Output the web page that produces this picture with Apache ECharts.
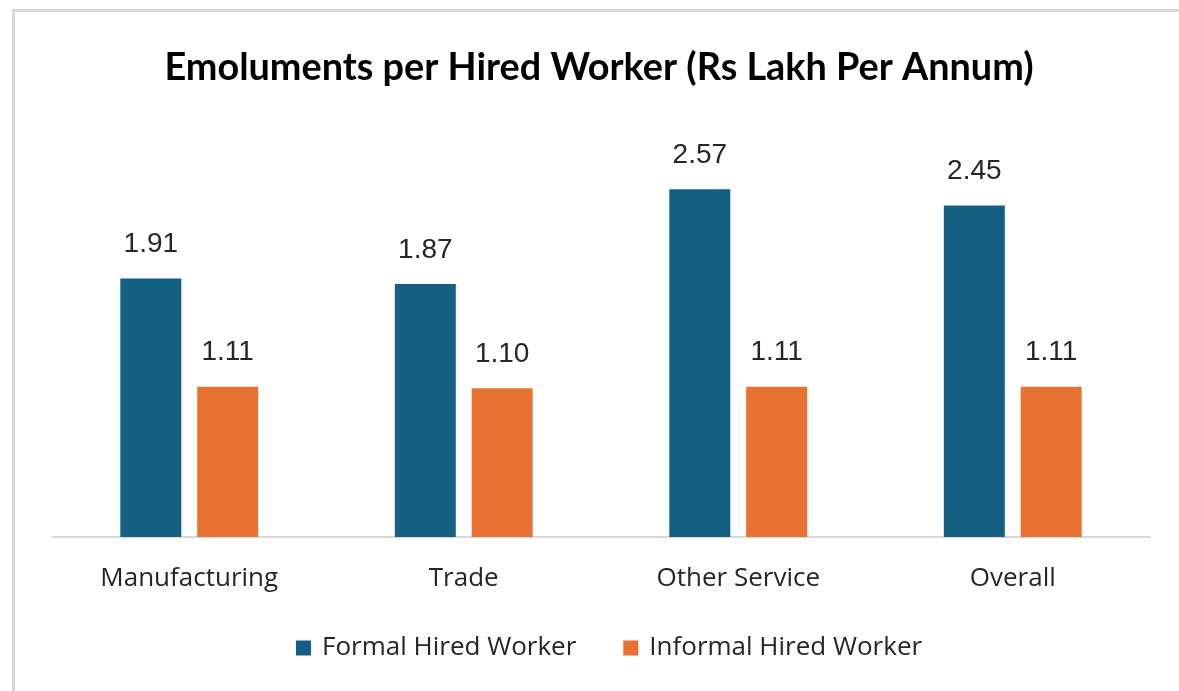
<!DOCTYPE html>
<html>
<head>
<meta charset="utf-8">
<script src="https://cdn.jsdelivr.net/npm/echarts@6/dist/echarts.min.js"></script>
<style>
  html, body { margin: 0; padding: 0; background: #fff; }
  #frame { position: absolute; left: 12px; top: 9px; width: 1200px; height: 720px; border: 3px solid #d9d9d9; box-sizing: border-box; }
  #myChart { position: absolute; left: 0; top: 0; width: 1179px; height: 691px; }
</style>
</head>
<body>
<div id="frame"></div>
<div id="myChart"></div>
<script>
var categories = ['Manufacturing', 'Trade', 'Other Service', 'Overall'];
var formalValues = [1.91, 1.87, 2.57, 2.45];
var informalValues = [1.11, 1.10, 1.11, 1.11];
var seriesNames = ['Formal Hired Worker', 'Informal Hired Worker'];

var myChart = echarts.init(document.getElementById('myChart'));

var labelStyle = {
    show: true,
    position: 'top',
    distance: 20,
    color: '#262626',
    fontFamily: 'Liberation Sans',
    fontSize: 28,
    formatter: function (p) { return p.value.toFixed(2); }
};

var option = {
    animation: false,
    title: {
        text: 'Emoluments per Hired Worker (Rs Lakh Per Annum)',
        left: 594,
        textAlign: 'center',
        top: 44,
        textStyle: {
            fontFamily: 'Lato',
            fontWeight: 'bold',
            fontSize: 37.8,
            color: '#000'
        }
    },
    legend: {
        bottom: 25,
        left: 291,
        itemWidth: 15,
        itemHeight: 15,
        itemGap: 47,
        icon: 'rect',
        textStyle: { fontFamily: 'Open Sans', fontSize: 26, color: '#262626', padding: [0, 0, 0, 6] },
        data: seriesNames
    },
    grid: { left: 52, right: 29, top: 131, bottom: 154 },
    xAxis: {
        type: 'category',
        data: categories,
        axisLine: { lineStyle: { color: '#d9d9d9', width: 2 } },
        axisTick: { show: false },
        axisLabel: { margin: 29, fontFamily: 'Open Sans', fontSize: 26, color: '#262626' }
    },
    yAxis: {
        type: 'value',
        min: 0,
        max: 3,
        show: false,
        splitLine: { show: false }
    },
    series: [
        {
            name: seriesNames[0],
            type: 'bar',
            data: formalValues,
            barWidth: 61,
            barGap: '26%',
            itemStyle: { color: '#156082' },
            label: labelStyle
        },
        {
            name: seriesNames[1],
            type: 'bar',
            data: informalValues,
            barWidth: 61,
            itemStyle: { color: '#e97132' },
            label: labelStyle
        }
    ]
};

myChart.setOption(option);
</script>
</body>
</html>
